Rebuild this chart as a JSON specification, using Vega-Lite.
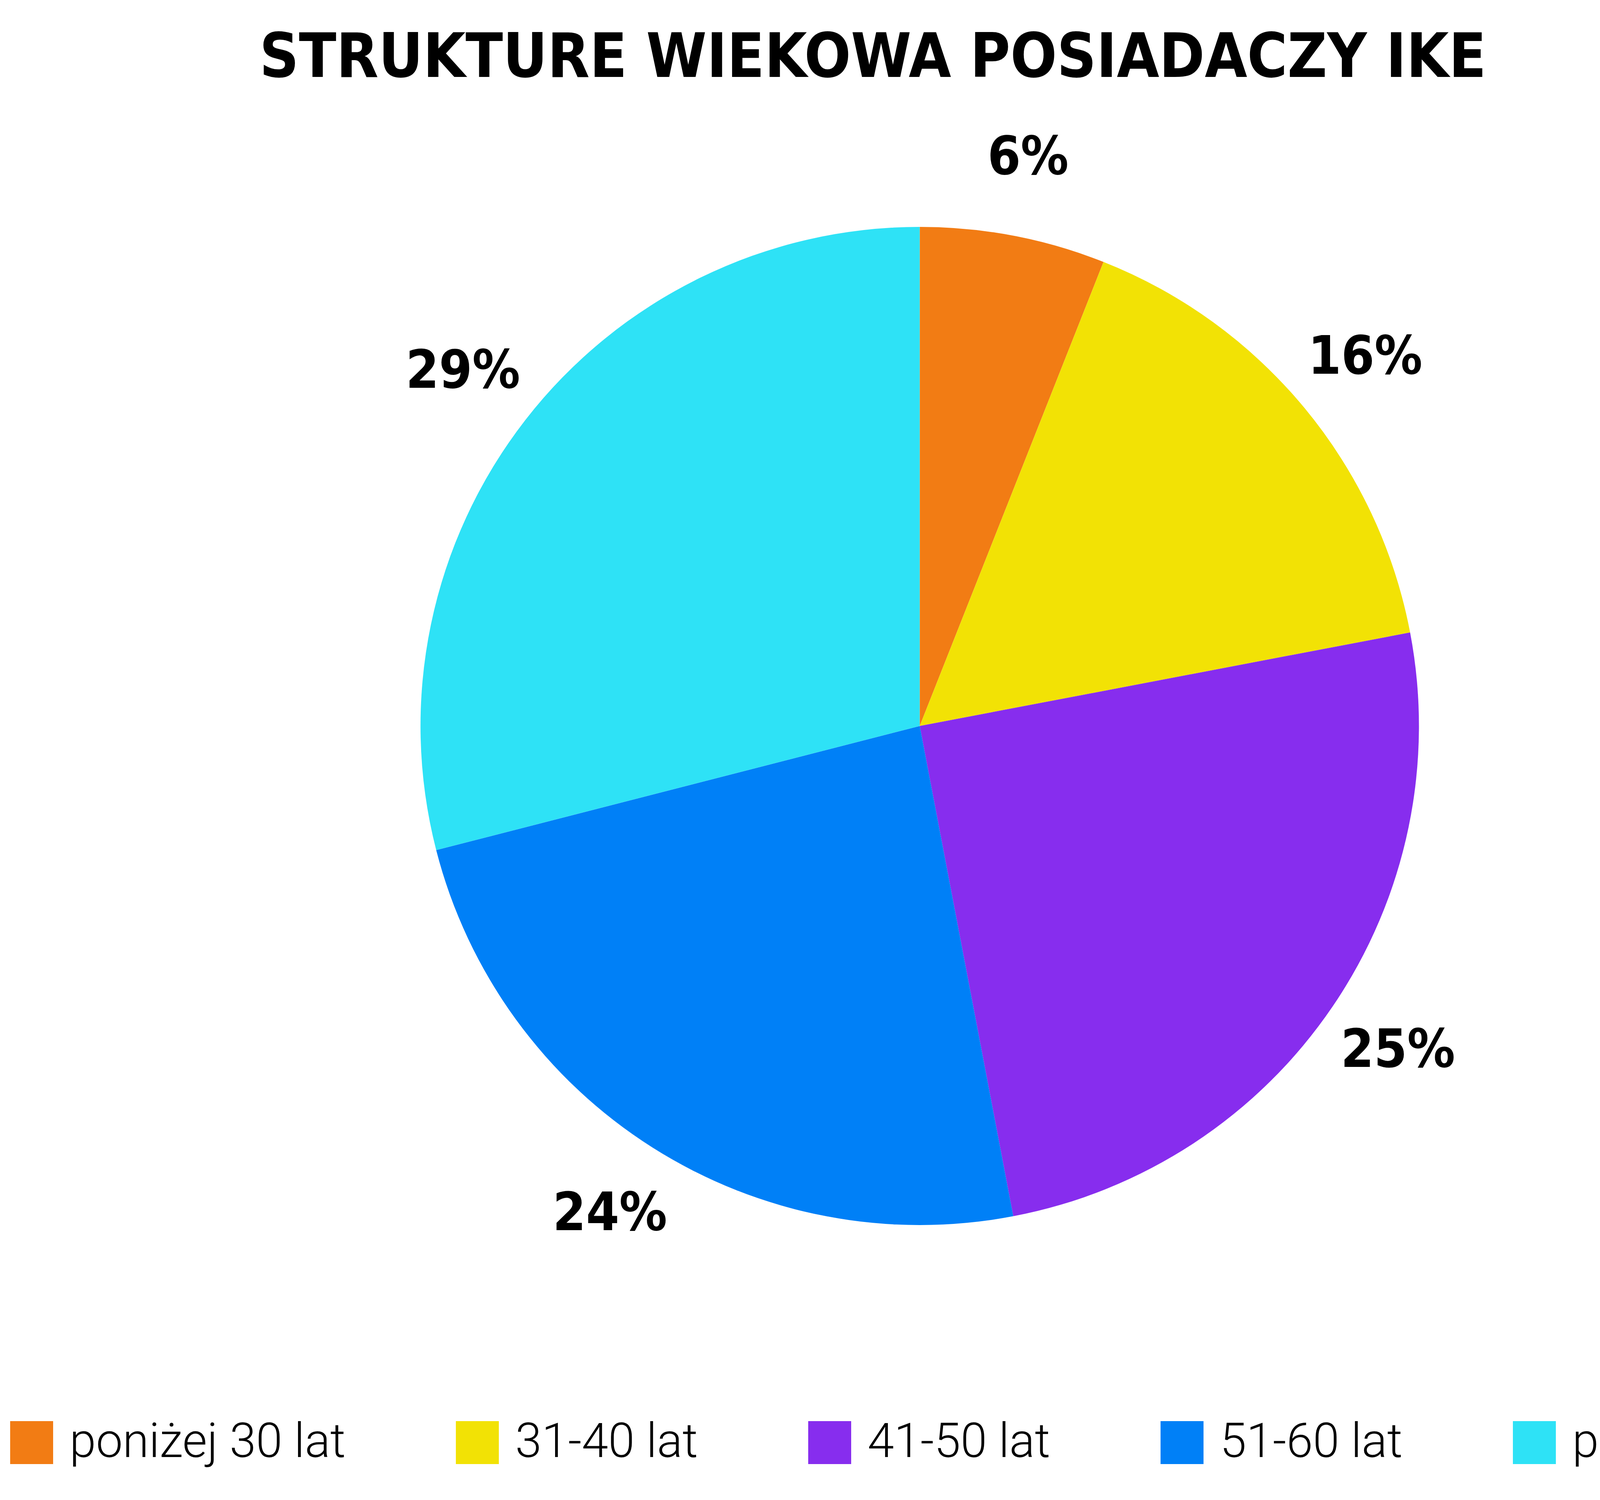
{
  "$schema": "https://vega.github.io/schema/vega-lite/v6.json",
  "autosize": {"type": "fit", "contains": "padding"},
  "padding": {"left": 0, "top": 0, "right": 141, "bottom": 123},
  "width": 4850,
  "height": 3841,
  "background": "white",
  "title": {
    "text": "STRUKTURE WIEKOWA POSIADACZY IKE",
    "font": "DejaVu Sans Condensed, Roboto",
    "fontWeight": "bold",
    "fontSize": 156,
    "color": "black",
    "anchor": "middle",
    "frame": "group",
    "baseline": "alphabetic",
    "offset": -353,
    "dx": -120
  },
  "data": {
    "values": [
      {"grupa": "poniżej 30 lat", "udzial": 6, "label": "6%", "kolejnosc": 1},
      {"grupa": "31-40 lat", "udzial": 16, "label": "16%", "kolejnosc": 2},
      {"grupa": "41-50 lat", "udzial": 25, "label": "25%", "kolejnosc": 3},
      {"grupa": "51-60 lat", "udzial": 24, "label": "24%", "kolejnosc": 4},
      {"grupa": "powyżej 60 lat", "udzial": 29, "label": "29%", "kolejnosc": 5}
    ]
  },
  "encoding": {
    "theta": {"field": "udzial", "type": "quantitative", "stack": true},
    "order": {"field": "kolejnosc", "type": "quantitative"}
  },
  "layer": [
    {
      "mark": {"type": "arc", "outerRadius": 1278, "stroke": null},
      "encoding": {
        "color": {
          "field": "grupa",
          "type": "nominal",
          "scale": {
            "domain": ["poniżej 30 lat", "31-40 lat", "41-50 lat", "51-60 lat", "powyżej 60 lat"],
            "range": ["#F27C14", "#F2E205", "#872DEE", "#0080F7", "#2EE2F6"]
          },
          "legend": {
            "title": null,
            "orient": "none",
            "direction": "horizontal",
            "legendX": 20,
            "legendY": 3633,
            "padding": 0,
            "symbolType": "square",
            "symbolSize": 12100,
            "symbolStrokeWidth": 0,
            "symbolOpacity": 1,
            "labelFont": "Roboto",
            "labelFontWeight": 300,
            "labelFontSize": 122,
            "labelColor": "black",
            "labelOffset": 36,
            "labelLimit": 2000,
            "columnPadding": 276
          }
        }
      }
    },
    {
      "mark": {
        "type": "text",
        "radius": 1480,
        "font": "DejaVu Sans Condensed, Roboto",
        "fontWeight": "bold",
        "fontSize": 136,
        "color": "black",
        "align": "center",
        "baseline": "middle"
      },
      "encoding": {
        "text": {"field": "label", "type": "nominal"}
      }
    }
  ]
}
